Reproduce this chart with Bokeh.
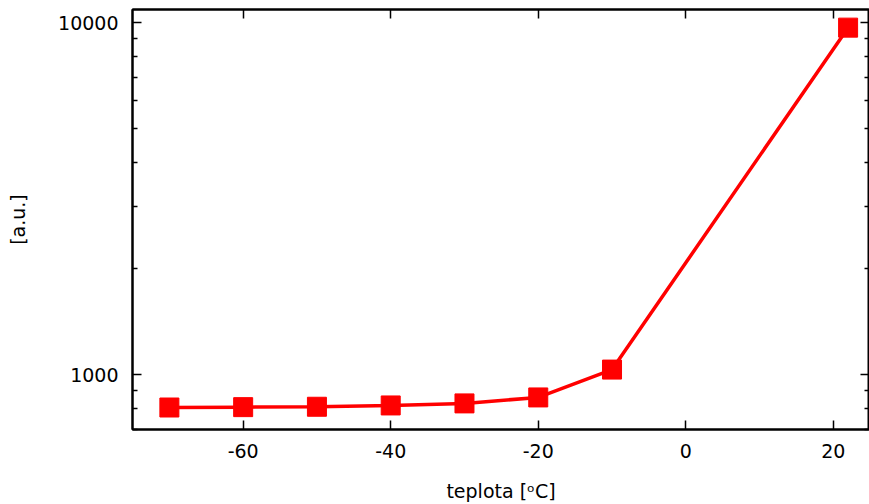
from bokeh.plotting import figure
from bokeh.models import Range1d, LinearAxis, LogAxis, FixedTicker, CustomJSTickFormatter
from bokeh.embed import file_html
from bokeh.resources import INLINE

temps = [-70, -60, -50, -40, -30, -20, -10, 22]
values = [806, 808, 810, 817, 828, 861, 1033, 9680]

x_major = [-60, -40, -20, 0, 20]
y_major = [1000, 10000]
y_minor = [700, 800, 900, 2000, 3000, 4000, 5000, 6000, 7000, 8000, 9000]

FONT = "'DejaVu Sans'"
FS = "19px"

p = figure(width=869, height=504, output_backend="svg", toolbar_location=None,
           y_axis_type="log", x_range=Range1d(-75, 24.9), y_range=Range1d(698, 10900),
           min_border_left=132, min_border_right=0, min_border_top=9, min_border_bottom=74)
p.grid.visible = False
p.outline_line_color = "black"
p.outline_line_width = 2
p.background_fill_color = "white"
p.border_fill_color = "white"

plain = CustomJSTickFormatter(code="return tick.toString();")
blank = CustomJSTickFormatter(code="return '';")

def style(ax, labels=True):
    ax.axis_line_color = "black"
    ax.axis_line_width = 2
    ax.major_tick_line_color = "black"
    ax.major_tick_line_width = 1.5
    ax.minor_tick_line_color = "black"
    ax.minor_tick_line_width = 1.5
    ax.major_tick_in = 9
    ax.major_tick_out = 0
    ax.minor_tick_in = 5
    ax.minor_tick_out = 0
    ax.major_label_text_font = FONT
    ax.major_label_text_font_size = FS
    ax.major_label_text_color = "black"
    ax.axis_label_text_font = FONT
    ax.axis_label_text_font_size = FS
    ax.axis_label_text_font_style = "normal"
    ax.axis_label_text_color = "black"
    if labels:
        ax.formatter = plain
    else:
        ax.formatter = blank
        ax.major_label_standoff = 0

p.xaxis.ticker = FixedTicker(ticks=x_major, minor_ticks=[])
p.yaxis.ticker = FixedTicker(ticks=y_major, minor_ticks=y_minor)
style(p.xaxis[0])
style(p.yaxis[0])
p.xaxis.axis_label = "teplota [ᵒC]"
p.yaxis.axis_label = "[a.u.]"
p.xaxis.major_label_standoff = 14
p.xaxis.axis_label_standoff = 19
p.yaxis.major_label_standoff = 14
p.yaxis.axis_label_standoff = 26
p.yaxis.major_label_orientation = "horizontal"

top = LinearAxis(ticker=FixedTicker(ticks=x_major, minor_ticks=[]))
style(top, labels=False)
p.add_layout(top, "above")
right = LogAxis(ticker=FixedTicker(ticks=y_major, minor_ticks=y_minor))
style(right, labels=False)
p.add_layout(right, "right")

p.line(temps, values, line_color="#ff0000", line_width=3.5)
p.scatter(temps, values, marker="square", size=19, fill_color="#ff0000", line_color="#ff0000")

open("out.html", "w").write(file_html(p, INLINE))
